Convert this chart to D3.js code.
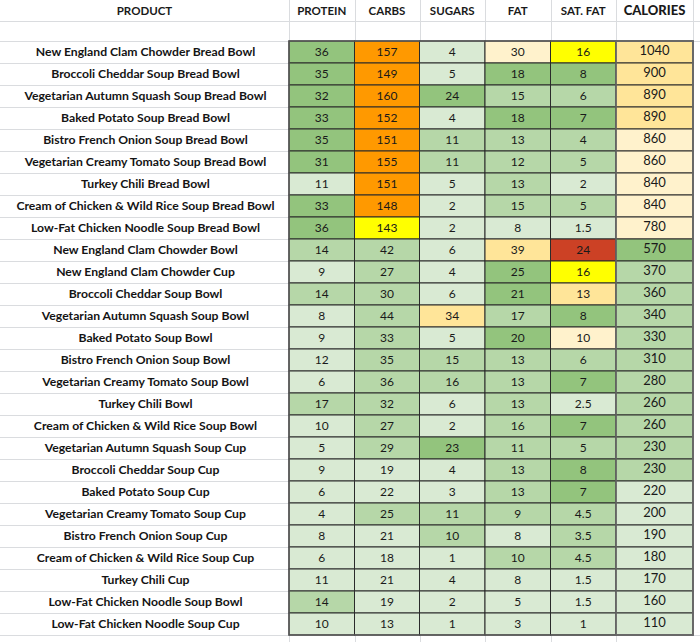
<!DOCTYPE html>
<html>
<head>
<meta charset="utf-8">
<script src="https://cdn.jsdelivr.net/npm/d3@7"></script>
<style>
  html, body { margin: 0; padding: 0; background: #fff; }
  svg { display: block; }
</style>
</head>
<body>
<div id="chart"></div>
<script>
// ---------------- DATA ----------------
const products = [
  "New England Clam Chowder Bread Bowl",
  "Broccoli Cheddar Soup Bread Bowl",
  "Vegetarian Autumn Squash Soup Bread Bowl",
  "Baked Potato Soup Bread Bowl",
  "Bistro French Onion Soup Bread Bowl",
  "Vegetarian Creamy Tomato Soup Bread Bowl",
  "Turkey Chili Bread Bowl",
  "Cream of Chicken & Wild Rice Soup Bread Bowl",
  "Low-Fat Chicken Noodle Soup Bread Bowl",
  "New England Clam Chowder Bowl",
  "New England Clam Chowder Cup",
  "Broccoli Cheddar Soup Bowl",
  "Vegetarian Autumn Squash Soup Bowl",
  "Baked Potato Soup Bowl",
  "Bistro French Onion Soup Bowl",
  "Vegetarian Creamy Tomato Soup Bowl",
  "Turkey Chili Bowl",
  "Cream of Chicken & Wild Rice Soup Bowl",
  "Vegetarian Autumn Squash Soup Cup",
  "Broccoli Cheddar Soup Cup",
  "Baked Potato Soup Cup",
  "Vegetarian Creamy Tomato Soup Cup",
  "Bistro French Onion Soup Cup",
  "Cream of Chicken & Wild Rice Soup Cup",
  "Turkey Chili Cup",
  "Low-Fat Chicken Noodle Soup Bowl",
  "Low-Fat Chicken Noodle Soup Cup"
];
const columnLabels = ["PROTEIN", "CARBS", "SUGARS", "FAT", "SAT. FAT", "CALORIES"];

const protein  = [36,35,32,33,35,31,11,33,36,14,9,14,8,9,12,6,17,10,5,9,6,4,8,6,11,14,10];
const carbs    = [157,149,160,152,151,155,151,148,143,42,27,30,44,33,35,36,32,27,29,19,22,25,21,18,21,19,13];
const sugars   = [4,5,24,4,11,11,5,2,2,6,4,6,34,5,15,16,6,2,23,4,3,11,10,1,4,2,1];
const fat      = [30,18,15,18,13,12,13,15,8,39,25,21,17,20,13,13,13,16,11,13,13,9,8,10,8,5,3];
const satFat   = [16,8,6,7,4,5,2,5,1.5,24,16,13,8,10,6,7,2.5,7,5,8,7,4.5,3.5,4.5,1.5,1.5,1];
const calories = [1040,900,890,890,860,860,840,840,780,570,370,360,340,330,310,280,260,260,230,230,220,200,190,180,170,160,110];

// Highlight level of each cell (as shown in the reference's conditional fills)
// g1 = strong green, g2 = mid green, g3 = pale green, c = cream, lo = light orange, o = orange, y = yellow, r = red
const proteinLevel  = ["g1","g1","g1","g1","g1","g1","g3","g1","g1","g2","g3","g2","g3","g3","g3","g3","g2","g3","g3","g3","g3","g3","g3","g3","g3","g2","g3"];
const carbsLevel    = ["o","o","o","o","o","o","o","o","y","g2","g2","g2","g2","g2","g2","g2","g2","g2","g2","g3","g3","g2","g3","g3","g3","g3","g3"];
const sugarsLevel   = ["g3","g3","g1","g3","g2","g2","g3","g3","g3","g3","g3","g3","lo","g3","g2","g2","g3","g3","g1","g3","g3","g2","g2","g3","g3","g3","g3"];
const fatLevel      = ["c","g1","g2","g1","g2","g2","g2","g2","g3","lo","g1","g1","g2","g1","g2","g2","g2","g2","g2","g2","g2","g2","g3","g2","g3","g3","g3"];
const satFatLevel   = ["y","g1","g2","g1","g2","g2","g3","g2","g3","r","y","lo","g1","c","g2","g1","g3","g1","g2","g1","g1","g2","g2","g2","g3","g3","g3"];
const caloriesLevel = ["lo","lo","lo","lo","c","c","c","c","c","g1","g2","g2","g2","g2","g2","g2","g2","g2","g2","g2","g3","g3","g3","g3","g3","g3","g3"];

// ---------------- LAYOUT ----------------
const W = 700, H = 642;
const colEdges = [289, 354.5, 419.5, 485, 550.5, 616, 693]; // column boundaries for numeric columns
const headerH = 21;
const tableTop = 41, tableBottom = 635;

const fillScale = d3.scaleOrdinal()
  .domain(["g1","g2","g3","c","lo","o","y","r"])
  .range(["#93c47d","#b6d7a8","#d9ead3","#fff2cc","#ffe599","#ff9900","#ffff00","#cc4125"]);

const series = [
  {label: columnLabels[0], values: protein,  levels: proteinLevel},
  {label: columnLabels[1], values: carbs,    levels: carbsLevel},
  {label: columnLabels[2], values: sugars,   levels: sugarsLevel},
  {label: columnLabels[3], values: fat,      levels: fatLevel},
  {label: columnLabels[4], values: satFat,   levels: satFatLevel},
  {label: columnLabels[5], values: calories, levels: caloriesLevel}
];

const y = d3.scaleBand().domain(products).range([tableTop, tableBottom]).paddingInner(0).paddingOuter(0);
const xLeft = d3.scaleOrdinal().domain(columnLabels).range(colEdges.slice(0, 6));
const xRight = d3.scaleOrdinal().domain(columnLabels).range(colEdges.slice(1));

const svg = d3.select("#chart").append("svg").attr("width", W).attr("height", H);
svg.append("rect").attr("width", W).attr("height", H).attr("fill", "#fff");

const gridColor = "#dadcdf";
const textColor = "#1a1a1a";
const font = "Lato, 'Open Sans', sans-serif";

// spreadsheet background gridlines
const gGrid = svg.append("g").attr("stroke", gridColor).attr("stroke-width", 1).attr("shape-rendering", "crispEdges");
const hLines = [headerH, tableTop].concat(products.map(p => y(p) + y.bandwidth()));
hLines.forEach((yy, i) => {
  gGrid.append("line").attr("x1", 0).attr("x2", i < 2 ? W : colEdges[0]).attr("y1", Math.round(yy) + 0.5).attr("y2", Math.round(yy) + 0.5);
});
gGrid.append("line").attr("x1", colEdges[6]).attr("x2", W).attr("y1", tableBottom + 0.5).attr("y2", tableBottom + 0.5);
colEdges.forEach(xx => {
  gGrid.append("line").attr("x1", Math.round(xx) + 0.5).attr("x2", Math.round(xx) + 0.5).attr("y1", 0).attr("y2", tableTop);
});
colEdges.slice(0, 6).forEach(xx => {
  gGrid.append("line").attr("x1", Math.round(xx) + 0.5).attr("x2", Math.round(xx) + 0.5).attr("y1", tableBottom).attr("y2", H);
});

// header
svg.append("text")
  .attr("x", colEdges[0] / 2).attr("y", headerH / 2 + 2)
  .attr("text-anchor", "middle").attr("dominant-baseline", "middle")
  .attr("font-family", font).attr("font-size", 11.5).attr("font-weight", 700)
  .attr("fill", textColor).text("PRODUCT");

svg.append("g").selectAll("text").data(series).join("text")
  .attr("x", d => (xLeft(d.label) + xRight(d.label)) / 2)
  .attr("y", d => d.label === "CALORIES" ? headerH / 2 + 1 : headerH / 2 + 2)
  .attr("text-anchor", "middle").attr("dominant-baseline", "middle")
  .attr("font-family", font)
  .attr("font-size", d => d.label === "CALORIES" ? 13 : 11.5)
  .attr("font-weight", d => d.label === "CALORIES" ? 900 : 700)
  .attr("fill", textColor)
  .text(d => d.label);

// product names
svg.append("g").selectAll("text").data(products).join("text")
  .attr("x", colEdges[0] / 2 + 1)
  .attr("y", d => y(d) + y.bandwidth() / 2 + 1)
  .attr("text-anchor", "middle").attr("dominant-baseline", "middle")
  .attr("font-family", font).attr("font-size", 12.2).attr("font-weight", 700)
  .attr("fill", "#141414")
  .text(d => d);

// cells
const cols = svg.append("g").selectAll("g").data(series).join("g");
cols.selectAll("rect").data(d => d.values.map((v, i) => ({col: d.label, v, lvl: d.levels[i], p: products[i]})))
  .join("rect")
  .attr("x", d => xLeft(d.col))
  .attr("y", d => y(d.p))
  .attr("width", d => xRight(d.col) - xLeft(d.col))
  .attr("height", y.bandwidth())
  .attr("fill", d => fillScale(d.lvl))
  .attr("stroke", "#2b2b2b")
  .attr("stroke-width", 1);

cols.selectAll("text").data(d => d.values.map((v, i) => ({col: d.label, v, p: products[i]})))
  .join("text")
  .attr("x", d => (xLeft(d.col) + xRight(d.col)) / 2)
  .attr("y", d => y(d.p) + y.bandwidth() / 2 + (d.col === "CALORIES" ? 0 : 1))
  .attr("text-anchor", "middle").attr("dominant-baseline", "middle")
  .attr("font-family", font)
  .attr("font-size", d => d.col === "CALORIES" ? 13 : 12)
  .attr("fill", textColor)
  .text(d => d.v);

// outer border of the data block
svg.append("rect")
  .attr("x", colEdges[0]).attr("y", tableTop)
  .attr("width", colEdges[6] - colEdges[0]).attr("height", tableBottom - tableTop)
  .attr("fill", "none").attr("stroke", "#555").attr("stroke-width", 1.5);
svg.append("rect")
  .attr("x", colEdges[5]).attr("y", tableTop)
  .attr("width", colEdges[6] - colEdges[5]).attr("height", tableBottom - tableTop)
  .attr("fill", "none").attr("stroke", "#6b6b6b").attr("stroke-width", 1.5);
</script>
</body>
</html>
